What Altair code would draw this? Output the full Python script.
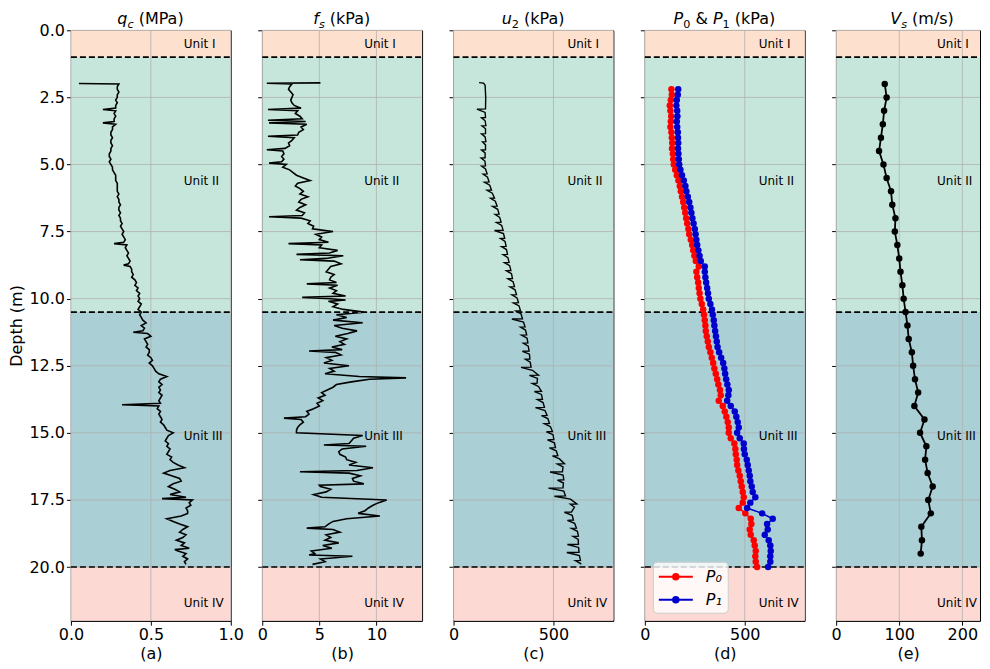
import altair as alt
import pandas as pd

# ---------------- data ----------------
unit_names = ["Unit I", "Unit II", "Unit III", "Unit IV"]
unit_top = [0.0, 1.0, 10.5, 20.0]
unit_bottom = [1.0, 10.5, 20.0, 22.0]
unit_colors = ["#FDE0CD", "#C6E6DC", "#AACFD4", "#FDD9D3"]
unit_label_depth = [0.5, 5.6, 15.1, 21.35]
boundary_depth = [1.0, 10.5, 20.0]
depth_ticks = [0, 2.5, 5, 7.5, 10, 12.5, 15, 17.5, 20]

# CPT sampling depths (0.1 m interval, 2.0 - 19.9 m)
cpt_depth = [round(2.0 + 0.1 * i, 1) for i in range(180)]

qc_mpa = [
    0.30, 0.29, 0.29, 0.30, 0.29, 0.29, 0.28, 0.29, 0.28, 0.28,
    0.28, 0.27, 0.28, 0.27, 0.27, 0.28, 0.26, 0.26, 0.25, 0.25,
    0.26, 0.25, 0.25, 0.26, 0.25, 0.25, 0.24, 0.24, 0.25, 0.24,
    0.25, 0.26, 0.26, 0.27, 0.28, 0.28, 0.28, 0.29, 0.29, 0.29,
    0.29, 0.30, 0.29, 0.30, 0.30, 0.31, 0.30, 0.30, 0.31, 0.30,
    0.31, 0.31, 0.32, 0.31, 0.32, 0.33, 0.32, 0.33, 0.34, 0.33,
    0.35, 0.34, 0.35, 0.36, 0.35, 0.36, 0.37, 0.36, 0.37, 0.38,
    0.38, 0.39, 0.38, 0.40, 0.41, 0.40, 0.42, 0.41, 0.43, 0.42,
    0.43, 0.42, 0.44, 0.43, 0.42, 0.44, 0.43, 0.44, 0.45, 0.47,
    0.44, 0.46, 0.45, 0.48, 0.50, 0.46, 0.47, 0.48, 0.47, 0.49,
    0.49, 0.48, 0.50, 0.51, 0.49, 0.51, 0.52, 0.53, 0.55, 0.60,
    0.56, 0.55, 0.57, 0.55, 0.56, 0.55, 0.57, 0.56, 0.55, 0.56,
    0.55, 0.54, 0.56, 0.55, 0.56, 0.57, 0.56, 0.58, 0.59, 0.60,
    0.64, 0.61, 0.60, 0.59, 0.61, 0.60, 0.62, 0.61, 0.60, 0.63,
    0.62, 0.64, 0.67, 0.71, 0.62, 0.58, 0.63, 0.68, 0.69, 0.64,
    0.61, 0.65, 0.68, 0.62, 0.72, 0.76, 0.74, 0.75, 0.72, 0.73,
    0.73, 0.69, 0.60, 0.64, 0.68, 0.73, 0.70, 0.68, 0.72, 0.70,
    0.66, 0.71, 0.69, 0.74, 0.67, 0.72, 0.70, 0.73, 0.71, 0.72,
]
qc_spike_depth = [1.98, 2.95, 3.45, 7.95, 8.75, 11.25, 13.95, 17.45, 19.35]
qc_spike_mpa = [0.05, 0.20, 0.20, 0.27, 0.33, 0.39, 0.32, 0.57, 0.65]

fs_kpa = [
    2.6, 2.4, 2.3, 2.5, 2.7, 2.6, 2.5, 2.6, 2.8, 3.4,
    3.1, 2.9, 3.3, 3.5, 3.8, 3.9, 3.4, 3.6, 3.2, 3.1,
    2.8, 2.6, 2.3, 2.4, 2.0, 1.8, 1.9, 1.7, 1.9, 1.7,
    2.1, 1.8, 2.4, 2.7, 3.0, 3.6, 4.2, 3.1, 2.9, 3.3,
    3.6, 3.3, 4.0, 3.4, 3.2, 3.8, 3.3, 3.0, 3.7, 3.5,
    3.4, 4.2, 4.0, 4.5, 4.4, 6.2, 4.7, 5.2, 5.0, 5.8,
    5.2, 5.0, 6.6, 5.9, 7.1, 5.6, 6.3, 6.9, 6.0, 5.8,
    5.6, 6.3, 6.0, 5.9, 6.5, 6.6, 5.9, 6.5, 6.2, 7.3,
    6.0, 5.8, 6.6, 6.2, 7.1, 8.9, 6.5, 7.4, 6.2, 8.8,
    6.3, 7.0, 8.3, 7.5, 6.4, 7.4, 6.8, 7.2, 6.1, 7.0,
    6.4, 6.9, 5.6, 6.1, 5.4, 7.6, 5.9, 6.3, 5.5, 8.5,
    9.4, 7.8, 6.5, 6.2, 5.7, 5.2, 5.5, 4.9, 5.3, 4.8,
    5.0, 4.5, 3.9, 4.1, 3.8, 3.4, 3.6, 3.3, 3.1, 3.0,
    3.0, 8.8, 8.0, 7.8, 7.6, 9.1, 7.0, 6.7, 6.8, 7.3,
    7.4, 8.2, 7.6, 9.7, 8.3, 7.6, 8.6, 7.9, 8.0, 8.9,
    5.1, 6.0, 5.6, 4.5, 5.2, 10.9, 10.2, 9.7, 9.3, 9.0,
    8.4, 10.3, 7.4, 6.2, 5.8, 5.5, 6.2, 6.8, 5.6, 6.0,
    5.5, 6.7, 5.3, 6.1, 4.3, 4.6, 7.9, 5.1, 5.5, 4.4,
]
fs_spike_depth = [1.96, 1.97, 2.95, 3.35, 3.45, 3.95, 4.45, 4.95, 6.95, 7.95,
                  8.35, 8.55, 9.45, 9.95, 10.05, 11.95, 12.95, 14.45, 15.45,
                  16.45, 16.95, 18.55, 19.55]
fs_spike_kpa = [5.1, 0.4, 0.5, 0.5, 0.6, 0.5, 0.4, 0.6, 0.6, 2.3,
                3.0, 3.3, 3.9, 3.5, 7.3, 4.1, 12.6, 1.9, 5.4,
                3.3, 5.0, 3.9, 4.1]

# u2: start of the record, then pore-pressure "teeth" (top, dip, recovery)
u2_start_depth = [1.95, 1.97, 2.05, 2.50, 2.93, 2.94, 3.06]
u2_start_kpa = [128, 150, 158, 161, 160, 117, 158]
u2_tooth_depth = [
    3.25, 3.55, 3.85, 4.15, 4.45, 4.75, 5.05, 5.35, 5.65, 5.95, 6.25, 6.55,
    6.85, 7.15, 7.45, 7.75, 8.05, 8.35, 8.65, 8.95, 9.25, 9.55, 9.85, 10.15,
    10.45, 10.75, 11.05, 11.35, 11.65, 11.95, 12.25, 12.55, 12.85, 13.15,
    13.45, 13.75, 14.05, 14.35, 14.65, 14.95, 15.25, 15.55, 15.85, 16.15,
    16.45, 16.75, 17.05, 17.35, 17.65, 17.95, 18.25, 18.55, 18.85, 19.15,
    19.45, 19.75,
]
u2_tooth_top = [
    160, 162, 160, 162, 160, 158, 160, 168, 178, 190, 205, 218,
    228, 238, 248, 256, 263, 270, 278, 287, 295, 305, 315, 325,
    335, 345, 358, 366, 372, 378, 382, 388, 425, 418,
    440, 445, 455, 468, 480, 495, 502, 510, 522, 555,
    545, 552, 548, 560, 617, 590, 600, 615, 625, 625,
    628, 635,
]
u2_tooth_dip = [
    140, 142, 140, 145, 140, 138, 140, 148, 155, 168, 185, 195,
    208, 215, 205, 235, 240, 248, 255, 265, 272, 282, 292, 300,
    312, 292, 335, 340, 350, 345, 360, 338, 380, 395,
    405, 420, 410, 440, 455, 465, 470, 480, 495, 520,
    483, 520, 475, 505, 585, 555, 570, 590, 598, 570,
    567, 610,
]
u2_tooth_rec = [
    158, 160, 158, 160, 158, 157, 160, 170, 181, 194, 209, 221,
    231, 241, 250, 258, 265, 272, 281, 290, 298, 308, 318, 328,
    338, 350, 360, 368, 374, 380, 384, 395, 420, 425,
    440, 448, 458, 472, 485, 498, 505, 514, 530, 548,
    548, 550, 552, 585, 605, 594, 606, 620, 624, 626,
    630, 636,
]
u2_end_depth = [19.90]
u2_end_kpa = [638]

dmt_depth = [
    2.2, 2.4, 2.6, 2.8, 3.0, 3.2, 3.4, 3.6, 3.8, 4.0,
    4.2, 4.4, 4.6, 4.8, 5.0, 5.2, 5.4, 5.6, 5.8, 6.0,
    6.2, 6.4, 6.6, 6.8, 7.0, 7.2, 7.4, 7.6, 7.8, 8.0,
    8.2, 8.4, 8.6, 8.8, 9.0, 9.2, 9.4, 9.6, 9.8, 10.0,
    10.2, 10.4, 10.6, 10.8, 11.0, 11.2, 11.4, 11.6, 11.8, 12.0,
    12.2, 12.4, 12.6, 12.8, 13.0, 13.2, 13.4, 13.6, 13.8, 14.0,
    14.2, 14.4, 14.6, 14.8, 15.0, 15.2, 15.4, 15.6, 15.8, 16.0,
    16.2, 16.4, 16.6, 16.8, 17.0, 17.2, 17.4, 17.6, 17.8, 18.0,
    18.2, 18.4, 18.6, 18.8, 19.0, 19.2, 19.4, 19.6, 19.8, 20.0,
]
p0_kpa = [
    133, 135, 130, 125, 128, 132, 130, 128, 133, 135,
    137, 136, 140, 142, 145, 152, 160, 168, 175, 180,
    186, 192, 197, 202, 207, 212, 218, 222, 230, 237,
    242, 248, 255, 270, 258, 262, 267, 270, 274, 278,
    285, 292, 296, 300, 303, 305, 310, 315, 320, 328,
    335, 342, 348, 355, 362, 368, 376, 380, 370, 390,
    400, 408, 415, 420, 420, 430, 448, 453, 455, 460,
    462, 468, 475, 480, 485, 490, 495, 490, 470, 503,
    530, 533, 525, 530, 545, 550, 555, 553, 555, 562,
]
p1_kpa = [
    167, 165, 160, 158, 162, 163, 160, 162, 165, 166,
    167, 166, 168, 170, 172, 178, 186, 195, 203, 208,
    215, 222, 228, 233, 238, 244, 250, 254, 258, 262,
    268, 274, 280, 300, 300, 303, 307, 312, 316, 320,
    328, 336, 340, 345, 348, 352, 356, 360, 364, 372,
    382, 392, 398, 402, 407, 413, 420, 418, 412, 430,
    450, 458, 465, 470, 462, 475, 495, 496, 500, 510,
    515, 520, 525, 528, 535, 540, 553, 528, 512, 587,
    640, 612, 615, 600, 620, 628, 630, 628, 628, 617,
]

vs_depth = [2.0, 2.5, 3.0, 3.5, 4.0, 4.5, 5.0, 5.5, 6.0, 6.5, 7.0, 7.5,
            8.0, 8.5, 9.0, 9.5, 10.0, 10.5, 11.0, 11.5, 12.0, 12.5, 13.0, 13.5,
            14.0, 14.5, 15.0, 15.5, 16.0, 16.5, 17.0, 17.5, 18.0, 18.5, 19.0, 19.5]
vs_ms = [77, 80, 76, 74, 71, 68, 75, 80, 87, 89, 94, 93,
         97, 100, 102, 105, 107, 110, 113, 115, 120, 122, 125, 130,
         124, 140, 133, 143, 141, 145, 153, 146, 150, 135, 136, 134]

assert len(qc_mpa) == 180 and len(fs_kpa) == 180
assert len(u2_tooth_depth) == len(u2_tooth_top) == len(u2_tooth_dip) == len(u2_tooth_rec)
assert len(dmt_depth) == len(p0_kpa) == len(p1_kpa)
assert len(vs_depth) == len(vs_ms)

# ---------------- helpers ----------------
H = 591
FONT = "DejaVu Sans"
YSCALE = alt.Scale(domain=[0, 22], reverse=True, nice=False, zero=False)
DOT = 42

EM = {'q': 0.635, 'f': 0.352, 'u': 0.634, 'P': 0.603, 'V': 0.684, 'c': 0.550,
      's': 0.521, '0': 0.636, '1': 0.636, '2': 0.636, ' ': 0.318, '(': 0.390,
      ')': 0.390, 'M': 0.863, 'a': 0.613, 'k': 0.579, 'm': 0.974, '/': 0.337,
      '&': 0.780}


def merged_df(depths, vals, sdep, svals):
    rows = sorted(list(zip(depths, vals)) + list(zip(sdep, svals)))
    return pd.DataFrame({"depth": [r[0] for r in rows],
                         "val": [r[1] for r in rows],
                         "idx": list(range(len(rows)))})


def u2_frame():
    d = list(u2_start_depth)
    v = list(u2_start_kpa)
    for t, top, dip, rec in zip(u2_tooth_depth, u2_tooth_top, u2_tooth_dip, u2_tooth_rec):
        d += [t, t + 0.01, t + 0.12]
        v += [top, dip, rec]
    d += u2_end_depth
    v += u2_end_kpa
    return pd.DataFrame({"depth": d, "val": v, "idx": list(range(len(d)))})


def title_layers(pieces, center):
    widths = [sum(EM.get(ch, 0.6) for ch in t) * fs for t, fs, st, dy in pieces]
    x = center - sum(widths) / 2
    layers = []
    for (t, fs, st, dy), w in zip(pieces, widths):
        lead = (len(t) - len(t.lstrip(' '))) * EM[' '] * fs
        txt = t.strip(' ')
        layers.append(
            alt.Chart(pd.DataFrame({"t": [txt]})).mark_text(
                align="left", baseline="alphabetic", fontSize=fs,
                fontStyle=st, font=FONT, color="black"
            ).encode(text="t:N", x=alt.value(x + lead), y=alt.value(-6.5 + dy))
        )
        x += w
    return layers


def panel(width, xdom, xticks, xfmt, letter, pieces, title_center,
          data_layers, text_x, first=False):
    if first:
        yaxis = alt.Axis(values=depth_ticks, format=".1f", title="Depth (m)",
                         titlePadding=4)
    else:
        yaxis = alt.Axis(values=depth_ticks, labels=False, title=None)
    xaxis = alt.Axis(values=xticks, format=xfmt, title=f"({letter})",
                     titlePadding=3, labelPadding=1)
    xsc = alt.Scale(domain=xdom, nice=False, zero=False)

    def Y(f):
        return alt.Y(f, type="quantitative", scale=YSCALE, axis=yaxis)

    def X(f):
        return alt.X(f, type="quantitative", scale=xsc, axis=xaxis)

    layers = []
    for top, bot, col in zip(unit_top, unit_bottom, unit_colors):
        layers.append(
            alt.Chart(pd.DataFrame({"top": [top], "bottom": [bot]}))
            .mark_rect(color=col)
            .encode(x=alt.value(0), x2=alt.value(width), y=Y("top"), y2=alt.Y2("bottom"))
        )
    layers.append(
        alt.Chart(pd.DataFrame({"v": depth_ticks})).mark_rule(color="#b0b0b0", strokeWidth=0.8)
        .encode(y=Y("v"), x=alt.value(0), x2=alt.value(width))
    )
    layers.append(
        alt.Chart(pd.DataFrame({"v": xticks})).mark_rule(color="#b0b0b0", strokeWidth=0.8)
        .encode(x=X("v"), y=alt.value(0), y2=alt.value(H))
    )
    layers.append(
        alt.Chart(pd.DataFrame({"d": boundary_depth}))
        .mark_rule(color="black", strokeWidth=1.6, strokeDash=[6, 3])
        .encode(y=Y("d"), x=alt.value(0), x2=alt.value(width))
    )
    for mk in data_layers:
        layers.append(mk(X, Y))
    layers.append(
        alt.Chart(pd.DataFrame({"name": unit_names, "depth": unit_label_depth}))
        .mark_text(align="left", baseline="middle", fontSize=12, font=FONT,
                   color="black")
        .encode(text="name:N", x=alt.value(text_x), y=Y("depth"))
    )
    layers += title_layers(pieces, title_center)
    return alt.layer(*layers).properties(width=width, height=H)


# ---------------- data layers ----------------
qc_df = merged_df(cpt_depth, qc_mpa, qc_spike_depth, qc_spike_mpa)
fs_df = merged_df(cpt_depth, fs_kpa, fs_spike_depth, fs_spike_kpa)
u2_df = u2_frame()
dmt_df = pd.DataFrame({
    "depth": dmt_depth + dmt_depth,
    "val": p0_kpa + p1_kpa,
    "series": ["P\u2080"] * len(dmt_depth) + ["P\u2081"] * len(dmt_depth),
    "idx": list(range(len(dmt_depth))) * 2,
})
vs_df = pd.DataFrame({"depth": vs_depth, "val": vs_ms, "idx": list(range(len(vs_depth)))})


def black_line(df, sw=1.6):
    def mk(X, Y):
        return alt.Chart(df).mark_line(color="black", strokeWidth=sw).encode(
            x=X("val"), y=Y("depth"), order=alt.Order("idx:Q"))
    return mk


def black_points(df):
    def mk(X, Y):
        return alt.Chart(df).mark_circle(color="black", size=DOT, opacity=1).encode(
            x=X("val"), y=Y("depth"))
    return mk


ser_dom = ["P\u2080", "P\u2081"]
ser_rng = ["#FF0000", "#0000CC"]
r1, r2, r3 = 0.31, 0.18, 0.06
cx = 0.889


def circ(r):
    return (f"M{cx + r:.3f},0A{r},{r} 0 1,1 {cx - r:.3f},0"
            f"A{r},{r} 0 1,1 {cx + r:.3f},0")


legend_path = "M-1.0,0H2.78" + circ(r1) + circ(r2) + circ(r3)


def dmt_lines(X, Y):
    return alt.Chart(dmt_df).mark_line(strokeWidth=1.5).encode(
        x=X("val"), y=Y("depth"), detail="series:N", order=alt.Order("idx:Q"),
        color=alt.Color("series:N", scale=alt.Scale(domain=ser_dom, range=ser_rng),
                        legend=alt.Legend(
                            orient="bottom-left", title=None, offset=8,
                            fillColor="rgba(255,255,255,0.8)", strokeColor="#cccccc",
                            cornerRadius=4, padding=5, rowPadding=5,
                            labelFontSize=16, labelFontStyle="italic", labelFont=FONT,
                            labelColor="black", symbolType=legend_path,
                            symbolSize=324, symbolStrokeWidth=2, labelOffset=28)))


def dmt_points(X, Y):
    return alt.Chart(dmt_df).mark_circle(size=DOT, opacity=1).encode(
        x=X("val"), y=Y("depth"),
        fill=alt.Fill("series:N", scale=alt.Scale(domain=ser_dom, range=ser_rng),
                      legend=None))


SUB = 11.2
pa = panel(160, [0, 1.0], [0, 0.5, 1.0], ".1f", "a",
           [("q", 16, "italic", 0), ("c", SUB, "italic", 4), (" (MPa)", 16, "normal", 0)], 80,
           [black_line(qc_df)], 113, first=True)
pb = panel(160, [0, 14.0], [0, 5, 10], "d", "b",
           [("f", 16, "italic", 0), ("s", SUB, "italic", 4), (" (kPa)", 16, "normal", 0)], 80,
           [black_line(fs_df)], 102)
pc = panel(160, [0, 800], [0, 500], "d", "c",
           [("u", 16, "italic", 0), ("2", SUB, "normal", 4), (" (kPa)", 16, "normal", 0)], 80,
           [black_line(u2_df, 1.4)], 114)
pd_ = panel(160, [0, 800], [0, 500], "d", "d",
            [("P", 16, "italic", 0), ("0", SUB, "normal", 4), (" & ", 16, "normal", 0),
             ("P", 16, "italic", 0), ("1", SUB, "normal", 4), (" (kPa)", 16, "normal", 0)], 80,
            [dmt_lines, dmt_points], 114)
pe = panel(144, [0, 228.0], [0, 100, 200], "d", "e",
           [("V", 16, "italic", 0), ("s", SUB, "italic", 4), (" (m/s)", 16, "normal", 0)], 86,
           [black_line(vs_df, 1.8), black_points(vs_df)], 101)

chart = alt.hconcat(pa, pb, pc, pd_, pe, spacing=31.5, bounds="flush").resolve_scale(
    color="independent", fill="independent"
).resolve_legend(
    color="independent", fill="independent"
).properties(
    padding={"left": 0, "top": 2, "right": 0, "bottom": 0}
).configure(font=FONT).configure_axis(
    labelFont=FONT, labelFontSize=16, titleFont=FONT, titleFontSize=16,
    titleFontWeight="normal", labelColor="black", titleColor="black",
    domainColor="black", tickColor="black", tickSize=4.5, labelPadding=2,
    grid=False, labelFlush=False, labelOverlap=False
).configure_view(stroke="black", strokeWidth=1)

chart.save("out.html", embed_options={"renderer": "svg", "actions": False})
